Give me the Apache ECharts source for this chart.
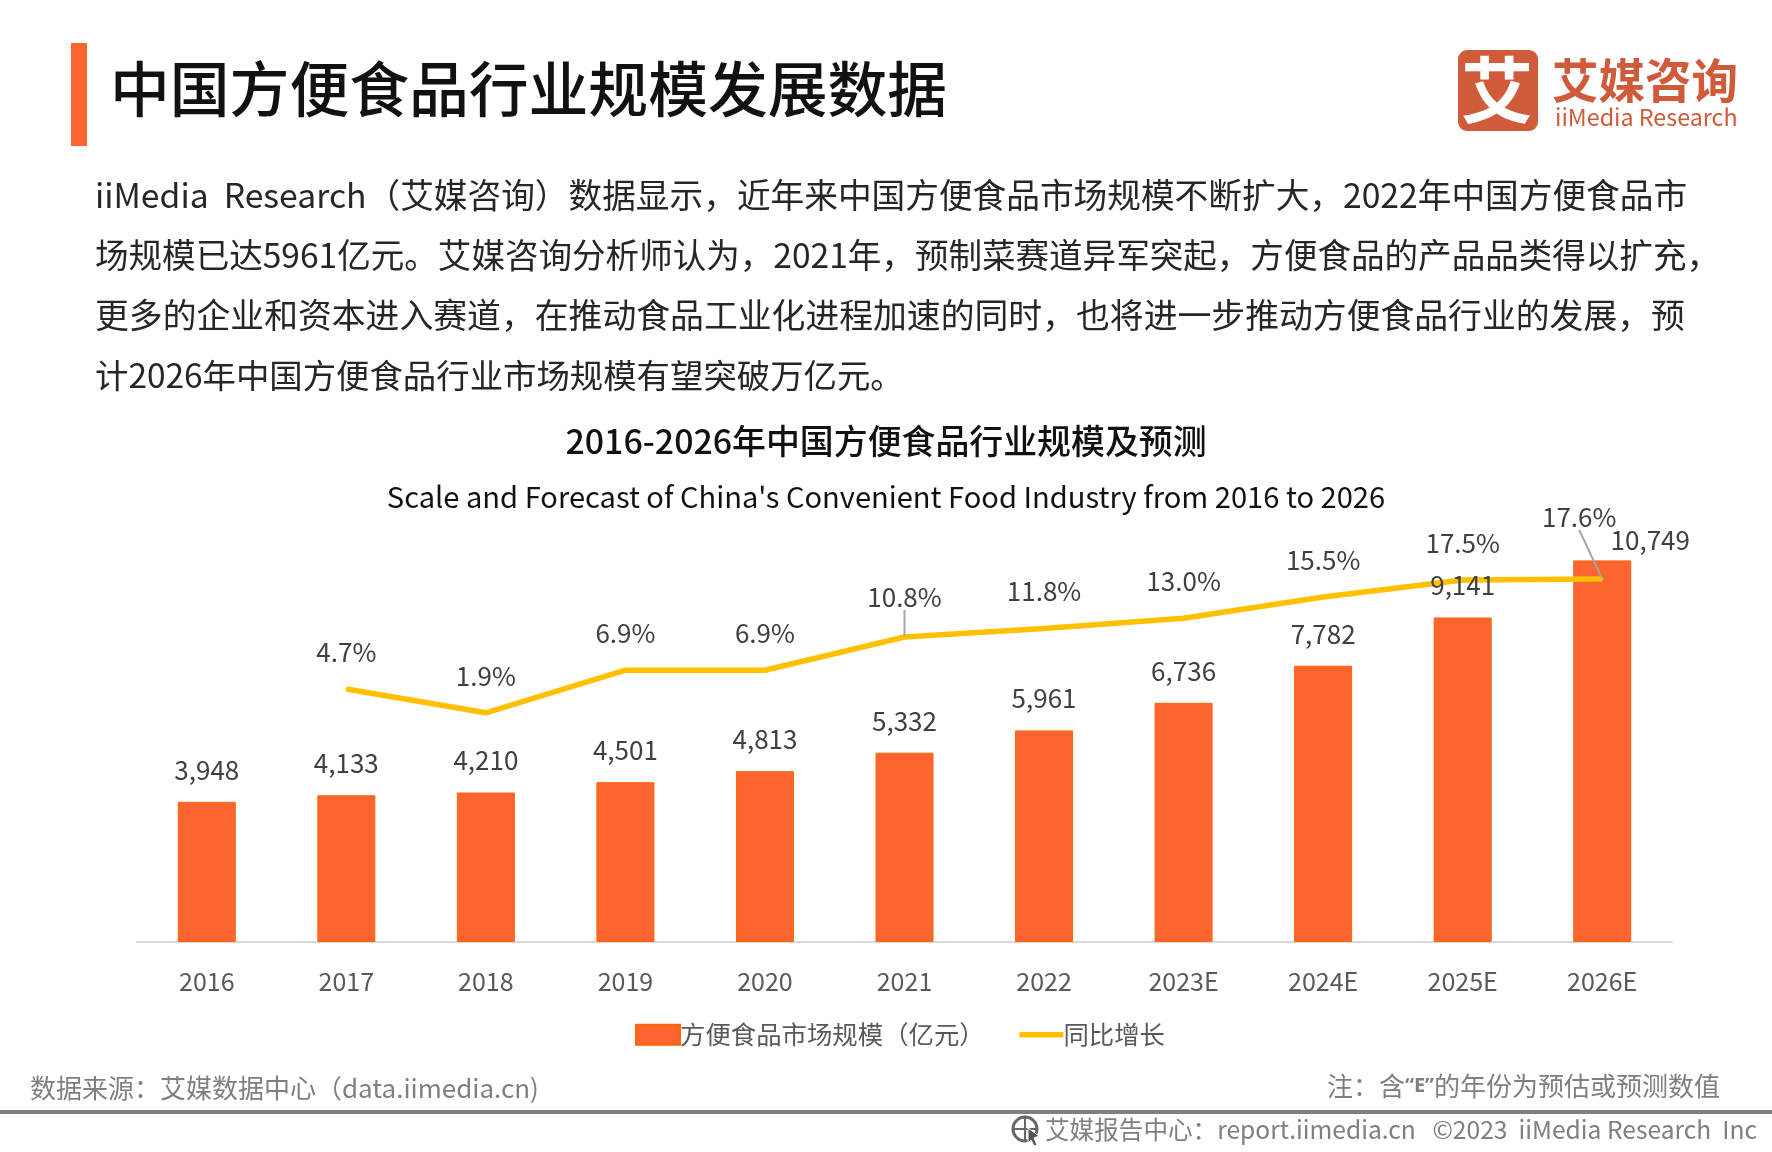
<!DOCTYPE html>
<html>
<head>
<meta charset="utf-8">
<title>中国方便食品行业规模发展数据</title>
<script src="https://cdn.jsdelivr.net/npm/echarts@6/dist/echarts.min.js"></script>
<style>
  html, body { margin: 0; padding: 0; background: #fff; }
  #main { width: 1772px; height: 1152px; }
</style>
</head>
<body>
<div id="main"></div>
<script>
var years = ['2016', '2017', '2018', '2019', '2020', '2021', '2022', '2023E', '2024E', '2025E', '2026E'];
var marketSize = [3948, 4133, 4210, 4501, 4813, 5332, 5961, 6736, 7782, 9141, 10749];
var growthRate = [null, 4.7, 1.9, 6.9, 6.9, 10.8, 11.8, 13.0, 15.5, 17.5, 17.6];
var paragraph = [
  'iiMedia  Research（艾媒咨询）数据显示，近年来中国方便食品市场规模不断扩大，2022年中国方便食品市',
  '场规模已达5961亿元。艾媒咨询分析师认为，2021年，预制菜赛道异军突起，方便食品的产品品类得以扩充，',
  '更多的企业和资本进入赛道，在推动食品工业化进程加速的同时，也将进一步推动方便食品行业的发展，预',
  '计2026年中国方便食品行业市场规模有望突破万亿元。'
];
// 每行字号略有不同，让行宽和原图一致
var paragraphSizes = [33.68, 33.56, 33.85, 33.4];

var FONT = '"Noto Sans CJK SC", "Noto Sans", sans-serif';
var ORANGE = '#FC6430';
var LOGO = '#D05B3B';
var LEADER_POINTS = [5, 10];

function txt(text, x, y, size, color, opts) {
  var style = {
    text: text, x: x, y: y, fill: color,
    fontFamily: FONT, fontSize: size,
    textVerticalAlign: 'middle', verticalAlign: 'middle'
  };
  Object.assign(style, opts || {});
  return { type: 'text', style: style, z: 10 };
}

var graphics = [
  // 标题色块
  { type: 'rect', shape: { x: 71, y: 43, width: 16, height: 103 }, style: { fill: ORANGE } },
  txt('中国方便食品行业规模发展数据', 110, 89, 59.8, '#111', { fontWeight: 500 }),

  // logo
  { type: 'rect', shape: { x: 1458, y: 50, width: 80, height: 81, r: 9 }, style: { fill: LOGO } },
  txt('艾', 1497, 90, 72, '#fff', { fontWeight: 'bold', align: 'center', textAlign: 'center' }),
  txt('艾媒咨询', 1552, 80, 46.5, LOGO, { fontWeight: 'bold' }),
  txt('iiMedia Research', 1555, 117, 23.3, LOGO),

  // 底部
  txt('数据来源：艾媒数据中心（data.iimedia.cn)', 30, 1088, 26, '#7F7F7F'),
  txt('注：含{q|“E”}的年份为预估或预测数值', 1720, 1086, 26, '#7F7F7F', {
    align: 'right', textAlign: 'right',
    rich: { q: { fontFamily: '"Noto Sans", sans-serif', fontWeight: 'bold', fontSize: 20, fill: '#7F7F7F', color: '#7F7F7F' } }
  }),
  { type: 'rect', shape: { x: 0, y: 1110, width: 1772, height: 4 }, style: { fill: '#808080' } },
  { type: 'circle', shape: { cx: 1025, cy: 1129, r: 12 }, style: { fill: 'none', stroke: '#666', lineWidth: 3 } },
  { type: 'line', shape: { x1: 1013, y1: 1129, x2: 1037, y2: 1129 }, style: { stroke: '#666', lineWidth: 2 } },
  { type: 'line', shape: { x1: 1025, y1: 1117, x2: 1025, y2: 1141 }, style: { stroke: '#666', lineWidth: 2 } },
  { type: 'polygon', shape: { points: [[1028, 1128], [1039, 1136], [1034, 1138], [1037, 1145], [1034, 1146], [1031, 1140], [1028, 1143]] }, style: { fill: '#555', stroke: '#fff', lineWidth: 1 } },
  txt('艾媒报告中心：report.iimedia.cn   ©2023  iiMedia Research  Inc', 1045, 1130, 24.6, '#7F7F7F')
];

paragraph.forEach(function (line, i) {
  graphics.push(txt(line, 95, 195.5 + i * 59.8, paragraphSizes[i], '#262626'));
});

var growthData = growthRate.map(function (v, i) {
  return LEADER_POINTS.indexOf(i) >= 0 ? { value: v, labelLine: { show: true } } : { value: v };
});

var myChart = echarts.init(document.getElementById('main'), null, { renderer: 'canvas' });

var option = {
  animation: false,
  textStyle: { fontFamily: FONT },
  title: [
    {
      text: '2016-2026年中国方便食品行业规模及预测',
      left: 881, top: 419, textAlign: 'center',
      textStyle: { fontFamily: FONT, fontSize: 33.9, fontWeight: 500, color: '#111' }
    },
    {
      text: "Scale and Forecast of China's Convenient Food Industry from 2016 to 2026",
      left: 881, top: 477, textAlign: 'center',
      textStyle: { fontFamily: FONT, fontSize: 29.1, fontWeight: 'normal', color: '#111' }
    }
  ],
  legend: {
    left: 630, top: 1017, itemWidth: 44, itemHeight: 20, itemGap: 32,
    textStyle: { fontFamily: FONT, fontSize: 25.4, color: '#595959', padding: [0, 0, 0, -5] },
    data: [
      { name: '方便食品市场规模（亿元）', icon: 'rect' },
      { name: '同比增长', itemStyle: { opacity: 0 }, lineStyle: { width: 5.5 } }
    ]
  },
  grid: { left: 137, right: 100, top: 516, height: 426 },
  xAxis: {
    type: 'category',
    data: years,
    axisLine: { lineStyle: { color: '#D9D9D9', width: 2 } },
    axisTick: { show: false },
    axisLabel: { fontFamily: FONT, fontSize: 25, color: '#595959', margin: 27 }
  },
  yAxis: [
    { type: 'value', min: 0, max: 12000, interval: 3000, show: false, splitLine: { show: false } },
    { type: 'value', min: -25, max: 25, interval: 25, show: false, splitLine: { show: false } }
  ],
  series: [
    {
      name: '方便食品市场规模（亿元）',
      type: 'bar',
      z: 1,
      data: marketSize,
      barWidth: 58,
      itemStyle: { color: ORANGE, borderColor: '#FF6600', borderWidth: 1 }
    },
    {
      name: '同比增长',
      type: 'line',
      z: 2,
      yAxisIndex: 1,
      data: growthData,
      showSymbol: true,
      symbol: 'circle',
      symbolSize: 2,
      lineStyle: { color: '#FFC000', width: 5.5 },
      itemStyle: { color: '#FFC000' },
      label: {
        show: true, position: 'top', distance: 23,
        fontFamily: FONT, fontSize: 26, color: '#404040',
        formatter: function (p) { return p.value.toFixed(1) + '%'; }
      },
      labelLine: { show: false, lineStyle: { color: '#A6A6A6', width: 2 } },
      labelLayout: function (p) {
        if (p.dataIndex === 10) return { dx: -23, dy: -25 };
        if (p.dataIndex === 5) return { dy: -3 };
      }
    },
    {
      // 柱子数值单独放一层，压在折线上面（9,141 和折线有重叠）
      name: '规模数值',
      type: 'bar',
      z: 3,
      barGap: '-100%',
      data: marketSize,
      barWidth: 58,
      itemStyle: { color: 'transparent' },
      label: {
        show: true, position: 'top', distance: 19,
        fontFamily: FONT, fontSize: 26, color: '#404040',
        formatter: function (p) { return p.value.toLocaleString('en-US'); }
      },
      labelLayout: function (p) {
        if (p.dataIndex === 10) return { dx: 48, dy: 12 };
      }
    }
  ],
  graphic: { elements: graphics }
};

myChart.setOption(option);
</script>
</body>
</html>
